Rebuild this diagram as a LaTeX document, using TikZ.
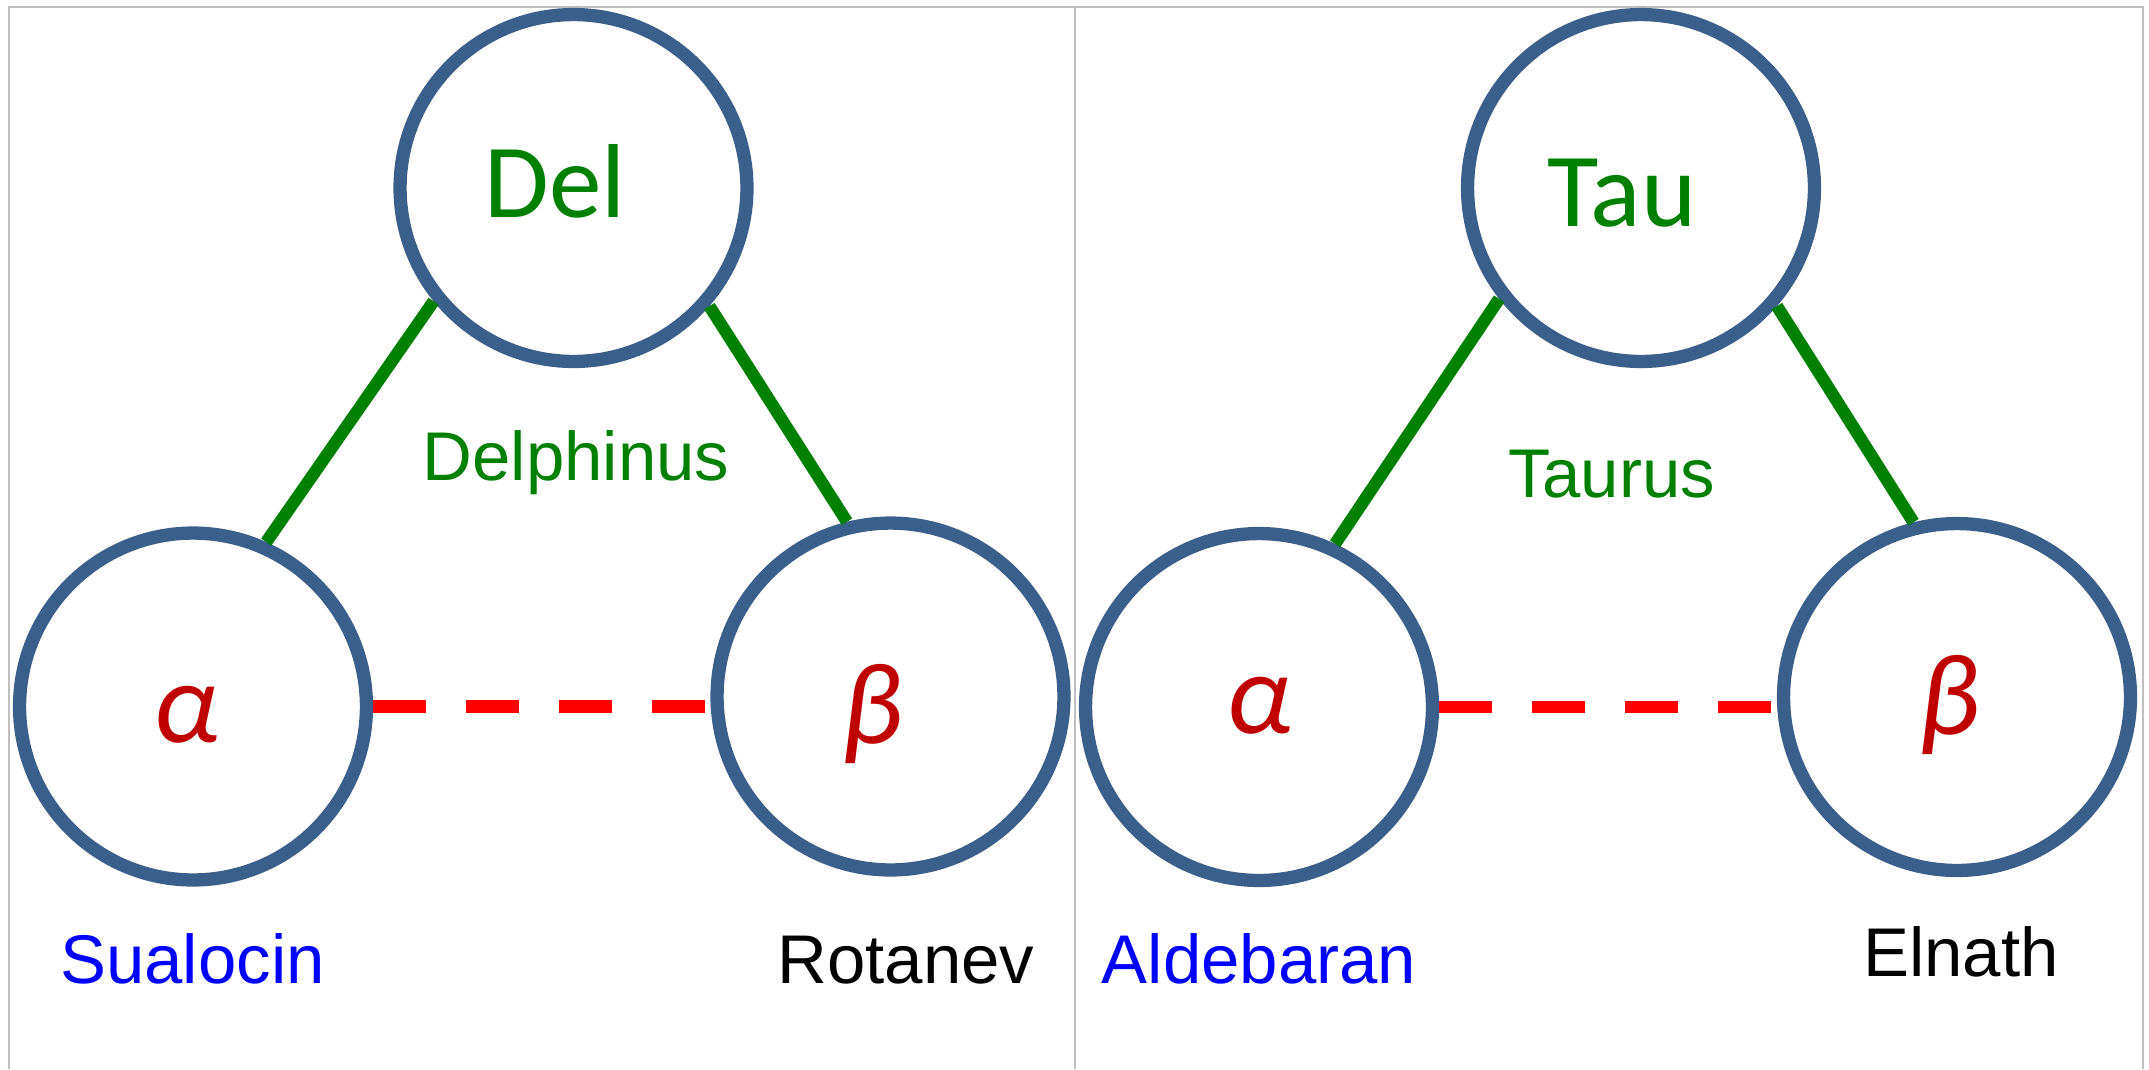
\documentclass[tikz,border=0pt]{standalone}
\usepackage{fontspec}
\setmainfont{Liberation Sans}
\newfontfamily\calfont{Carlito}
\definecolor{ringblue}{HTML}{3A5F8B}
\definecolor{linkgreen}{HTML}{008000}
\definecolor{greekred}{HTML}{C00000}
\definecolor{dashred}{HTML}{FF0000}
\definecolor{labelblue}{HTML}{0000FF}
\definecolor{framegray}{HTML}{BFBFBF}
\begin{document}
\begin{tikzpicture}[x=0.01cm,y=-0.01cm,
  starnode/.style={circle, draw=ringblue, line width=3.78pt, minimum size=3.467cm, inner sep=0pt},
  shortname/.style={inner sep=0pt, anchor=base, text=linkgreen, font=\calfont\fontsize{29.9}{32}\selectfont},
  greek/.style={inner sep=0pt, anchor=center, text=greekred, font=\calfont\itshape\fontsize{33}{36}\selectfont},
  consttext/.style={inner sep=0pt, anchor=base, text=linkgreen, font=\fontsize{19.6}{22}\selectfont},
  starname/.style={inner sep=0pt, anchor=base, font=\fontsize{19.6}{22}\selectfont},
  link/.style={draw=linkgreen, line width=3.5pt},
  weaklink/.style={draw=dashred, line width=3.6pt, dash pattern=on 15.08pt off 11.38pt},
  frameline/.style={draw=framegray, line width=0.6pt}]
\useasboundingbox (0,0) rectangle (2149,1069);
% frame
\draw[frameline] (9.3,1069) -- (9.3,6.7) -- (2143,6.7) -- (2143,1069);
\draw[frameline] (1075,6.7) -- (1075,1069);
% left panel
\node[starnode] (del) at (573.5,188) {};
\node[starnode] (a1) at (193,706.5) {};
\node[starnode] (b1) at (890.5,696.5) {};
\node[shortname] (deltxt) at (555,217) {Del};
\node[greek] (a1txt) at (186,715) {α};
\node[greek] (b1txt) at (872,714) {β};
\node[consttext] (delph) at (576,480) {Delphinus};
\node[starname, text=labelblue] (sual) at (192.5,983) {Sualocin};
\node[starname, text=black] (rot) at (906,983) {Rotanev};
\draw[link] (del.219) -- (a1.66);
\draw[link] (del.319) -- (b1.104);
\draw[weaklink] (a1.east) -- (a1.east -| b1.west);
% right panel
\node[starnode] (tau) at (1641,188) {};
\node[starnode] (a2) at (1259,707) {};
\node[starnode] (b2) at (1957,697) {};
\node[shortname] (tautxt) at (1622,226) {Tau};
\node[greek] (a2txt) at (1259.5,706) {α};
\node[greek] (b2txt) at (1949.5,704.5) {β};
\node[consttext] (taur) at (1611.5,497) {Taurus};
\node[starname, text=labelblue] (alde) at (1259,983) {Aldebaran};
\node[starname, text=black] (elna) at (1961,976) {Elnath};
\draw[link] (tau.218) -- (a2.65);
\draw[link] (tau.319) -- (b2.104);
\draw[weaklink] (a2.east) -- (a2.east -| b2.west);
\end{tikzpicture}
\end{document}
